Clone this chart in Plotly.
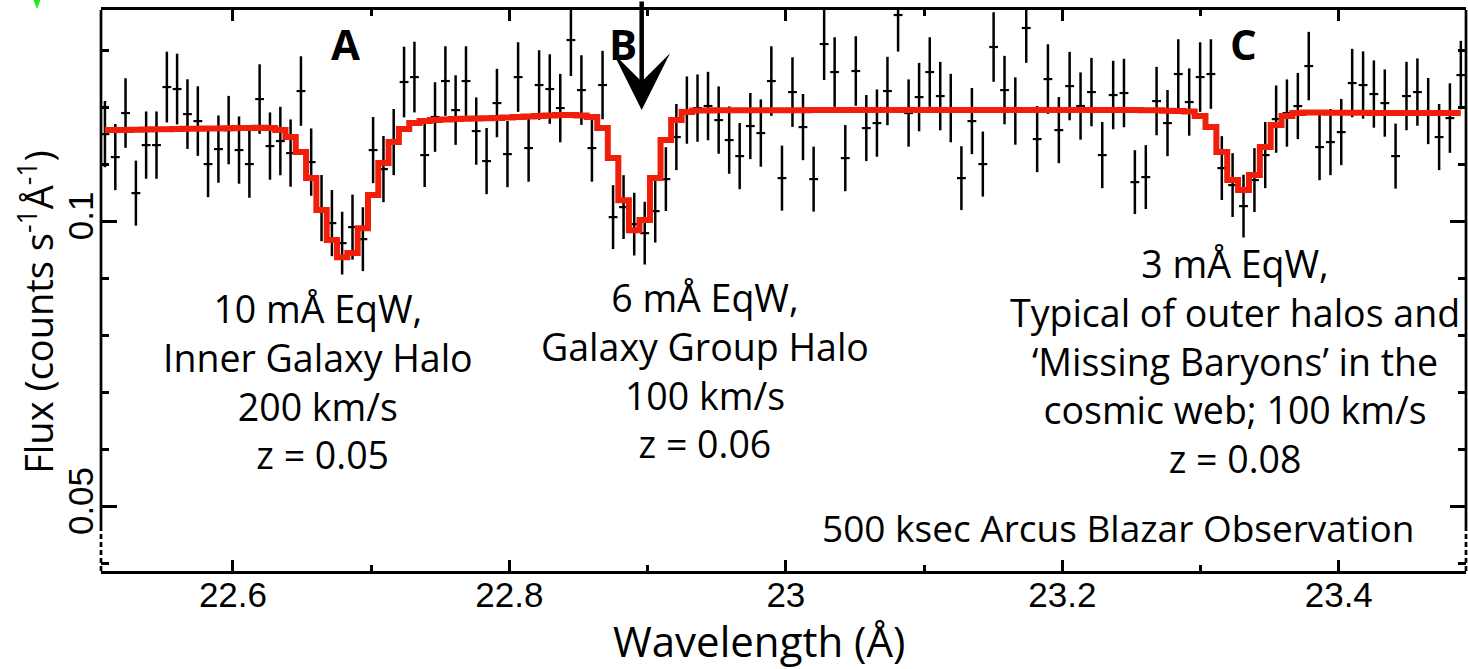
import plotly.graph_objects as go

# Binned spectrum: bin centres (Angstrom), measured flux and 1-sigma errors
wavelength = [
    22.5074, 22.5149, 22.5223, 22.5298, 22.5372, 22.5447, 22.5522, 22.5596, 22.5671, 22.5746,
    22.5820, 22.5895, 22.5969, 22.6044, 22.6119, 22.6193, 22.6268, 22.6343, 22.6417, 22.6492,
    22.6566, 22.6641, 22.6716, 22.6790, 22.6865, 22.6940, 22.7014, 22.7089, 22.7163, 22.7238,
    22.7313, 22.7387, 22.7462, 22.7537, 22.7611, 22.7686, 22.7760, 22.7835, 22.7910, 22.7986,
    22.8063, 22.8139, 22.8215, 22.8292, 22.8368, 22.8445, 22.8521, 22.8597, 22.8674, 22.8750,
    22.8826, 22.8903, 22.8979, 22.9055, 22.9132, 22.9208, 22.9284, 22.9361, 22.9437, 22.9514,
    22.9590, 22.9666, 22.9743, 22.9819, 22.9895, 22.9972, 23.0048, 23.0124, 23.0201, 23.0277,
    23.0353, 23.0430, 23.0506, 23.0582, 23.0659, 23.0735, 23.0812, 23.0888, 23.0964, 23.1041,
    23.1117, 23.1193, 23.1270, 23.1346, 23.1425, 23.1503, 23.1582, 23.1660, 23.1739, 23.1818,
    23.1896, 23.1975, 23.2053, 23.2132, 23.2211, 23.2289, 23.2368, 23.2446, 23.2525, 23.2604,
    23.2682, 23.2761, 23.2839, 23.2918, 23.2997, 23.3075, 23.3154, 23.3232, 23.3311, 23.3390,
    23.3468, 23.3547, 23.3625, 23.3704, 23.3783, 23.3861, 23.3940, 23.4018, 23.4097, 23.4176,
    23.4254, 23.4333, 23.4411, 23.4490, 23.4569, 23.4647, 23.4726, 23.4804, 23.4883,
]

flux = [
    0.11526, 0.11123, 0.11895, 0.10491, 0.11333, 0.11333, 0.12351, 0.12316, 0.11877, 0.11754,
    0.11000, 0.11263, 0.11596, 0.11246, 0.11000, 0.12140, 0.11316, 0.11404, 0.11193, 0.12281,
    0.11035, 0.10228, 0.09965, 0.09614, 0.09895, 0.09684, 0.11246, 0.10912, 0.11386, 0.12439,
    0.12526, 0.11158, 0.11825, 0.12456, 0.11947, 0.12456, 0.11579, 0.11053, 0.12070, 0.11175,
    0.12526, 0.11281, 0.12386, 0.12316, 0.11982, 0.13175, 0.12298, 0.11281, 0.12386, 0.10070,
    0.10246, 0.09947, 0.09789, 0.10175, 0.10737, 0.11474, 0.11947, 0.11982, 0.12018, 0.11772,
    0.11421, 0.11140, 0.11667, 0.11544, 0.12456, 0.10754, 0.12263, 0.11649, 0.10737, 0.13105,
    0.12614, 0.11105, 0.12632, 0.11632, 0.11719, 0.12281, 0.13614, 0.11895, 0.12175, 0.12614,
    0.12193, 0.11982, 0.10754, 0.11754, 0.11000, 0.13053, 0.12298, 0.11930, 0.13386, 0.11439,
    0.12491, 0.11596, 0.12368, 0.12018, 0.12263, 0.11158, 0.12211, 0.12246, 0.10684, 0.10772,
    0.12105, 0.11719, 0.12579, 0.12088, 0.12526, 0.12579, 0.10930, 0.10632, 0.10263, 0.10719,
    0.11158, 0.11789, 0.11895, 0.12018, 0.12719, 0.11298, 0.11386, 0.11561, 0.12421, 0.12386,
    0.12228, 0.12070, 0.11140, 0.12193, 0.12263, 0.11930, 0.11474, 0.11807, 0.12561,
]

flux_err = [
    0.0058, 0.0058, 0.0061, 0.0057, 0.0059, 0.0059, 0.0062, 0.0062, 0.0061, 0.0061,
    0.0058, 0.0059, 0.0060, 0.0059, 0.0059, 0.0061, 0.0059, 0.0060, 0.0059, 0.0061,
    0.0059, 0.0058, 0.0058, 0.0055, 0.0057, 0.0056, 0.0058, 0.0058, 0.0058, 0.0062,
    0.0062, 0.0056, 0.0061, 0.0061, 0.0061, 0.0061, 0.0059, 0.0058, 0.0060, 0.0058,
    0.0061, 0.0059, 0.0061, 0.0061, 0.0060, 0.0063, 0.0061, 0.0059, 0.0060, 0.0056,
    0.0056, 0.0055, 0.0055, 0.0055, 0.0056, 0.0058, 0.0059, 0.0059, 0.0060, 0.0059,
    0.0059, 0.0058, 0.0058, 0.0059, 0.0061, 0.0057, 0.0061, 0.0058, 0.0057, 0.0063,
    0.0061, 0.0058, 0.0061, 0.0058, 0.0059, 0.0060, 0.0064, 0.0059, 0.0060, 0.0061,
    0.0060, 0.0060, 0.0056, 0.0058, 0.0057, 0.0061, 0.0060, 0.0059, 0.0061, 0.0058,
    0.0061, 0.0058, 0.0060, 0.0059, 0.0060, 0.0058, 0.0060, 0.0060, 0.0056, 0.0056,
    0.0060, 0.0058, 0.0061, 0.0059, 0.0061, 0.0061, 0.0056, 0.0056, 0.0055, 0.0056,
    0.0058, 0.0059, 0.0059, 0.0058, 0.0060, 0.0058, 0.0058, 0.0058, 0.0060, 0.0059,
    0.0059, 0.0059, 0.0057, 0.0060, 0.0059, 0.0058, 0.0058, 0.0061, 0.0060,
]

# Absorption model evaluated on the same bins
model_flux = [
    0.11596, 0.11596, 0.11600, 0.11604, 0.11605, 0.11609, 0.11611, 0.11614, 0.11618, 0.11621,
    0.11623, 0.11626, 0.11630, 0.11632, 0.11635, 0.11639, 0.11632, 0.11596, 0.11474, 0.11211,
    0.10754, 0.10193, 0.09667, 0.09368, 0.09439, 0.09877, 0.10456, 0.11018, 0.11386, 0.11614,
    0.11719, 0.11754, 0.11772, 0.11781, 0.11789, 0.11795, 0.11798, 0.11804, 0.11807, 0.11816,
    0.11825, 0.11833, 0.11842, 0.11851, 0.11860, 0.11863, 0.11851, 0.11825, 0.11632, 0.11105,
    0.10368, 0.09842, 0.10018, 0.10754, 0.11421, 0.11772, 0.11912, 0.11939, 0.11939, 0.11942,
    0.11942, 0.11942, 0.11944, 0.11944, 0.11944, 0.11946, 0.11946, 0.11946, 0.11947, 0.11947,
    0.11947, 0.11947, 0.11947, 0.11947, 0.11947, 0.11947, 0.11947, 0.11947, 0.11947, 0.11947,
    0.11947, 0.11947, 0.11947, 0.11947, 0.11947, 0.11947, 0.11947, 0.11947, 0.11947, 0.11947,
    0.11947, 0.11947, 0.11947, 0.11947, 0.11947, 0.11947, 0.11947, 0.11947, 0.11947, 0.11945,
    0.11942, 0.11937, 0.11930, 0.11921, 0.11842, 0.11649, 0.11211, 0.10719, 0.10544, 0.10807,
    0.11298, 0.11684, 0.11842, 0.11895, 0.11904, 0.11904, 0.11902, 0.11902, 0.11900, 0.11900,
    0.11898, 0.11898, 0.11897, 0.11897, 0.11896, 0.11896, 0.11895, 0.11895, 0.11895,
]

BIN_HALF_WIDTH = 0.0032

# Absorber labels and descriptions
line_ids = ["A", "B", "C"]
line_id_wl = [22.6817, 22.8824, 23.3313]
absorber_notes = [
    "10 mÅ EqW,<br>Inner Galaxy Halo<br>200 km/s<br> z = 0.05",
    "6 mÅ EqW,<br>Galaxy Group Halo<br>100 km/s<br>z = 0.06",
    "3 mÅ EqW,<br>Typical of outer halos and<br>‘Missing Baryons’ in the<br>cosmic web; 100 km/s<br>z = 0.08",
]
note_wl = [22.6612, 22.9415, 23.3249]
note_top = [0.08950, 0.09143, 0.09739]

X_RANGE = [22.50455, 23.49205]
Y_RANGE = [0.03865, 0.13702]

TEXT_FONT = "Open Sans"
TICK_FONT = "Liberation Sans, Arial, sans-serif"
RED = "#f01e0a"

fig = go.Figure()

fig.add_trace(go.Scatter(
    x=wavelength, y=flux, mode="markers",
    marker=dict(size=2, color="black"),
    error_y=dict(type="data", array=flux_err, thickness=2.5, width=0, color="black"),
    error_x=dict(type="constant", value=BIN_HALF_WIDTH, thickness=2.2, width=0, color="black"),
    hoverinfo="skip",
))

fig.add_trace(go.Scatter(
    x=wavelength, y=model_flux, mode="lines",
    line=dict(color=RED, width=6, shape="hvh"),
    hoverinfo="skip",
))

annotations = []
for lid, wl in zip(line_ids, line_id_wl):
    annotations.append(dict(
        x=wl, y=0.13123, xref="x", yref="y", text=lid, showarrow=False,
        xanchor="center", yanchor="middle",
        font=dict(family=TEXT_FONT, size=42, color="black", weight=700),
    ))
for note, wl, top in zip(absorber_notes, note_wl, note_top):
    annotations.append(dict(
        x=wl, y=top, xref="x", yref="y", text=note, showarrow=False,
        xanchor="center", yanchor="top", align="center",
        font=dict(family=TEXT_FONT, size=37.5, color="black"),
    ))
annotations.append(dict(
    x=23.4559, y=0.05110, xref="x", yref="y",
    text="500 ksec Arcus Blazar Observation", showarrow=False,
    xanchor="right", yanchor="top",
    font=dict(family=TEXT_FONT, size=37, color="black"),
))
# Arrow marking absorber B
annotations.append(dict(
    x=22.8957, y=0.11949, xref="x", yref="y", text="",
    showarrow=True, ax=0, ay=-118, arrowhead=3, arrowsize=2.1,
    arrowwidth=4.5, arrowcolor="black", standoff=0,
))
# Axis titles
annotations.append(dict(
    x=0.4824, y=-0.0700, xref="paper", yref="paper",
    text="Wavelength (Å)", showarrow=False, xanchor="center", yanchor="top",
    font=dict(family=TEXT_FONT, size=42, color="black"),
))
annotations.append(dict(
    x=-0.047, y=0.4617, xref="paper", yref="paper",
    text="Flux (counts s<sup>-1</sup>Å<sup>-1</sup>)", showarrow=False,
    textangle=-90, xanchor="center", yanchor="middle",
    font=dict(family=TEXT_FONT, size=38, color="black"),
))

AXIS_W = 2.7
shapes = [
    # left / right frame: solid above the break, dashed below it
    dict(type="line", xref="paper", yref="paper", x0=0, x1=0, y0=0.0731, y1=1,
         line=dict(color="black", width=AXIS_W)),
    dict(type="line", xref="paper", yref="paper", x0=0, x1=0, y0=0, y1=0.0731,
         line=dict(color="black", width=AXIS_W, dash="5px,3px")),
    dict(type="line", xref="paper", yref="paper", x0=1, x1=1, y0=0.0731, y1=1,
         line=dict(color="black", width=AXIS_W)),
    dict(type="line", xref="paper", yref="paper", x0=1, x1=1, y0=0, y1=0.0731,
         line=dict(color="black", width=AXIS_W, dash="5px,3px")),
    # small green marker in the top-left corner
    dict(type="path", xref="paper", yref="paper",
         path="M -0.0506,1.025 L -0.0432,1.025 L -0.0469,1.0018 Z",
         fillcolor="#1ee81e", line=dict(width=0)),
]

fig.update_layout(
    width=1468, height=669,
    margin=dict(l=101, r=2, t=10, b=98),
    paper_bgcolor="white", plot_bgcolor="white",
    showlegend=False,
    font=dict(family=TEXT_FONT, color="black"),
    annotations=annotations,
    shapes=shapes,
    xaxis=dict(
        range=X_RANGE, showgrid=False, zeroline=False,
        showline=True, linecolor="black", linewidth=AXIS_W, mirror="ticks",
        ticks="inside", ticklen=11, tickwidth=2.5, tickcolor="black",
        tick0=22.6, dtick=0.2, ticklabelstandoff=-9,
        tickfont=dict(family=TICK_FONT, size=35, color="black"),
        minor=dict(ticks="inside", ticklen=6, tickwidth=2.5, tickcolor="black",
                   tick0=22.5, dtick=0.1, showgrid=False),
    ),
    yaxis=dict(
        range=Y_RANGE, showgrid=False, zeroline=False,
        showline=False, mirror="ticks",
        ticks="inside", ticklen=16, tickwidth=2.5, tickcolor="black",
        tick0=0.05, dtick=0.05, tickangle=-90,
        tickfont=dict(family=TICK_FONT, size=35, color="black"),
        minor=dict(ticks="inside", ticklen=8, tickwidth=2.5, tickcolor="black",
                   tick0=0.0, dtick=0.01, showgrid=False),
    ),
)

fig.write_html("out.html")
